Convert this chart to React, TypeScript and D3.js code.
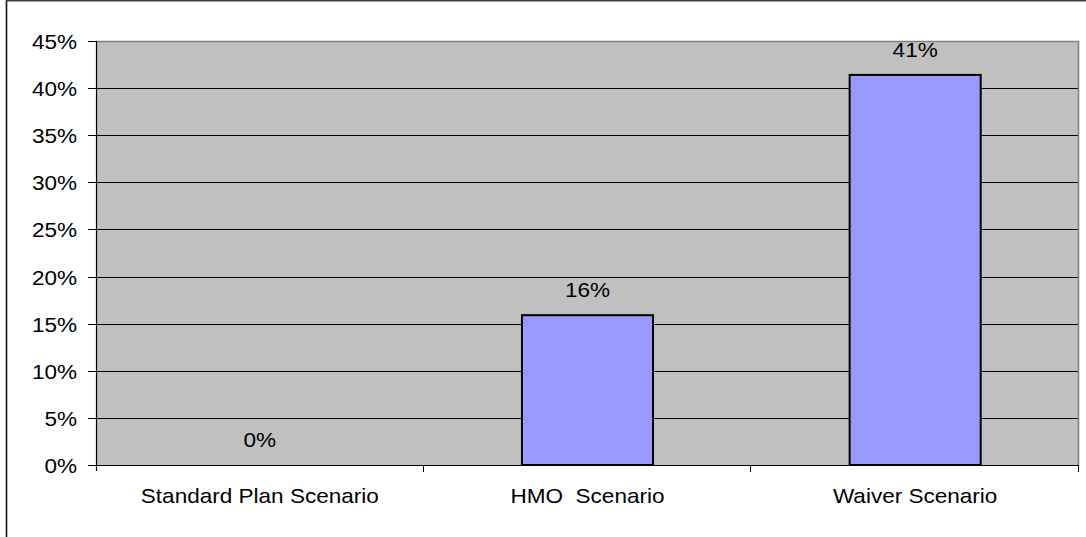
import React, { useEffect, useRef } from 'react';
import * as d3 from 'd3';

const categories = ['Standard Plan Scenario', 'HMO  Scenario', 'Waiver Scenario'];
const values = [0, 15.9, 41.4];
const valueLabels = ['0%', '16%', '41%'];
const yTicks = [0, 5, 10, 15, 20, 25, 30, 35, 40, 45];

const W = 1086;
const H = 537;
const FONT = 'Liberation Sans, Arial, sans-serif';

export default function App() {
  const ref = useRef<SVGSVGElement>(null);

  useEffect(() => {
    const svg = d3.select(ref.current);
    svg.selectAll('*').remove();

    const left = 96, right = 1079, top = 41, bottom = 465;

    const x = d3.scaleBand<string>()
      .domain(categories)
      .range([left, right])
      .paddingInner(0)
      .paddingOuter(0);

    const y = d3.scaleLinear().domain([0, 45]).range([bottom, top]);

    // outer frame (only left and top show)
    svg.append('line').attr('x1', 6.5).attr('x2', 6.5).attr('y1', 0).attr('y2', H)
      .attr('stroke', '#111').attr('stroke-width', 1.6);
    svg.append('line').attr('x1', 6).attr('x2', W).attr('y1', 0.8).attr('y2', 0.8)
      .attr('stroke', '#404040').attr('stroke-width', 1.6);

    // plot area
    svg.append('rect')
      .attr('x', left).attr('y', top)
      .attr('width', right - left).attr('height', bottom - top)
      .attr('fill', '#C0C0C0');

    // gridlines
    svg.append('g').selectAll('line')
      .data(yTicks.filter(t => t > 0 && t < 45))
      .enter().append('line')
      .attr('x1', left).attr('x2', right)
      .attr('y1', d => Math.round(y(d)) + 0.5).attr('y2', d => Math.round(y(d)) + 0.5)
      .attr('stroke', '#000').attr('stroke-width', 1);

    // top/right gray border
    svg.append('path')
      .attr('d', `M${left},${top + 0.5}H${right - 0.5}V${bottom}`)
      .attr('fill', 'none').attr('stroke', '#808080').attr('stroke-width', 1.6);

    // bars
    const barW = x.bandwidth() * 0.4;
    svg.append('g').selectAll('rect')
      .data(values.map((v, i) => ({ v, c: categories[i] })).filter(d => d.v > 0))
      .enter().append('rect')
      .attr('x', d => (x(d.c) as number) + x.bandwidth() / 2 - barW / 2)
      .attr('y', d => y(d.v))
      .attr('width', barW)
      .attr('height', d => bottom - y(d.v))
      .attr('fill', '#9999FF')
      .attr('stroke', '#000').attr('stroke-width', 2);

    // axes lines
    svg.append('line').attr('x1', left + 0.5).attr('x2', left + 0.5).attr('y1', top).attr('y2', bottom + 6)
      .attr('stroke', '#000').attr('stroke-width', 1.2);
    svg.append('line').attr('x1', left - 8).attr('x2', right).attr('y1', bottom + 0.5).attr('y2', bottom + 0.5)
      .attr('stroke', '#000').attr('stroke-width', 1.2);

    // y ticks and labels
    const yg = svg.append('g');
    yTicks.forEach(t => {
      const yy = Math.round(y(t)) + 0.5;
      yg.append('line').attr('x1', left - 8).attr('x2', left).attr('y1', yy).attr('y2', yy)
        .attr('stroke', '#000').attr('stroke-width', 1);
      yg.append('text')
        .attr('transform', `translate(77,${yy + 7.5}) scale(1.1,1)`)
        .attr('text-anchor', 'end')
        .attr('font-family', FONT).attr('font-size', 20.5).attr('fill', '#000')
        .text(`${t}%`);
    });

    // x ticks at category boundaries
    const bounds = categories.map(c => x(c) as number).concat([right]);
    svg.append('g').selectAll('line')
      .data(bounds.slice(1))
      .enter().append('line')
      .attr('x1', d => Math.round(d) - 0.5).attr('x2', d => Math.round(d) - 0.5)
      .attr('y1', bottom).attr('y2', bottom + 7)
      .attr('stroke', '#000').attr('stroke-width', 1);

    // category labels
    svg.append('g').selectAll('text')
      .data(categories)
      .enter().append('text')
      .attr('transform', d => `translate(${(x(d) as number) + x.bandwidth() / 2},503) scale(1.1,1)`)
      .attr('text-anchor', 'middle')
      .attr('font-family', FONT).attr('font-size', 20.5).attr('fill', '#000')
      .attr('xml:space', 'preserve')
      .style('white-space', 'pre')
      .text(d => d);

    // value labels
    svg.append('g').selectAll('text')
      .data(values)
      .enter().append('text')
      .attr('transform', (d, i) => `translate(${(x(categories[i]) as number) + x.bandwidth() / 2},${y(d) - 18}) scale(1.1,1)`)
      .attr('text-anchor', 'middle')
      .attr('font-family', FONT).attr('font-size', 20.5).attr('fill', '#000')
      .text((d, i) => valueLabels[i]);
  }, []);

  return (
    <div style={{ position: 'absolute', left: 0, top: 0 }}>
      <svg ref={ref} width={W} height={H} style={{ display: 'block', background: '#fff' }} />
    </div>
  );
}
